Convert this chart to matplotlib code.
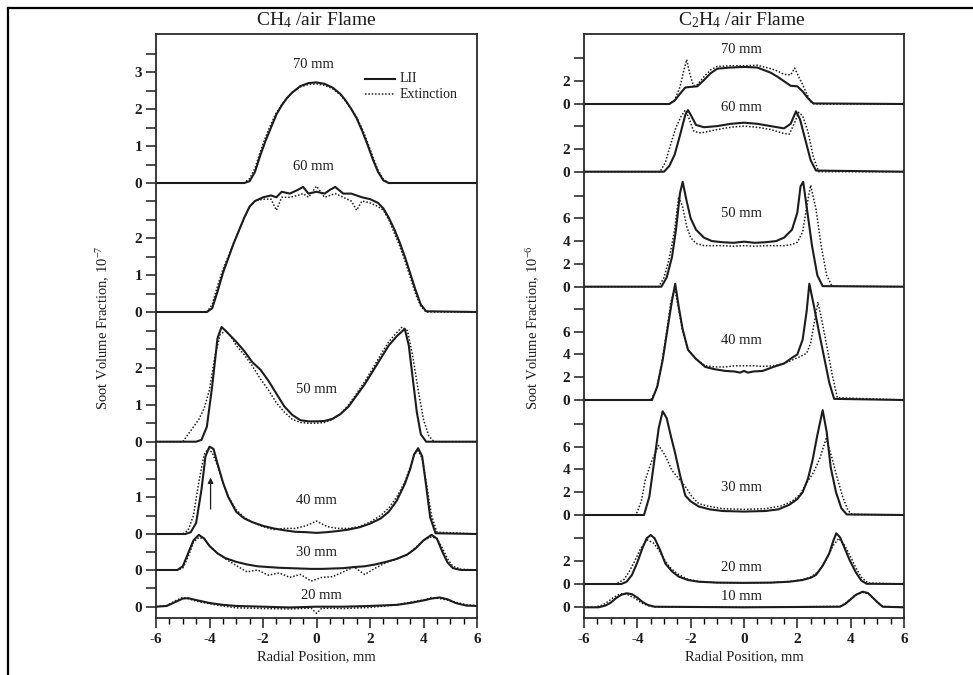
import matplotlib.pyplot as plt
from matplotlib.lines import Line2D

plt.rcParams['font.family'] = ['Liberation Serif', 'DejaVu Serif']
plt.rcParams['mathtext.fontset'] = 'custom'
plt.rcParams['mathtext.rm'] = 'Liberation Serif'
plt.rcParams['mathtext.default'] = 'regular'
plt.rcParams['axes.unicode_minus'] = False

# ---------------- CH4 / air flame, soot volume fraction in 1e-7 ----------------
ch4_heights = ['20 mm', '30 mm', '40 mm', '50 mm', '60 mm', '70 mm']

ch4_x70 = [-6, -2.7, -2.5, -2.3, -2.1, -1.9, -1.7, -1.5, -1.3, -1.1, -0.9, -0.6, -0.3, 0,
           0.3, 0.6, 0.9, 1.1, 1.3, 1.5, 1.7, 1.9, 2.1, 2.3, 2.5, 2.7, 6]
ch4_lii70 = [0, 0, 0.05, 0.3, 0.75, 1.15, 1.5, 1.85, 2.1, 2.3, 2.45, 2.62, 2.7, 2.72,
             2.68, 2.58, 2.4, 2.22, 2.0, 1.75, 1.42, 1.05, 0.65, 0.3, 0.07, 0, 0]
ch4_ext70 = [0, 0, 0.12, 0.4, 0.85, 1.25, 1.6, 1.9, 2.12, 2.3, 2.45, 2.6, 2.66, 2.68,
             2.64, 2.55, 2.38, 2.2, 2.0, 1.78, 1.48, 1.12, 0.72, 0.35, 0.1, 0, 0]

ch4_x60 = [-6, -4.1, -3.9, -3.7, -3.5, -3.3, -3.1, -2.9, -2.7, -2.5, -2.3, -2.0, -1.7,
           -1.5, -1.3, -1.0, -0.7, -0.5, -0.3, 0, 0.3, 0.5, 0.7, 1.0, 1.3, 1.5, 1.7, 2.0,
           2.3, 2.5, 2.7, 2.9, 3.1, 3.3, 3.5, 3.7, 3.9, 4.1, 6]
ch4_lii60 = [0, 0, 0.1, 0.55, 1.05, 1.45, 1.85, 2.2, 2.55, 2.85, 3.0, 3.1, 3.15, 3.1, 3.25,
             3.2, 3.3, 3.38, 3.2, 3.25, 3.2, 3.3, 3.38, 3.2, 3.2, 3.15, 3.1, 3.05, 2.95,
             2.8, 2.55, 2.25, 1.9, 1.5, 1.05, 0.6, 0.2, 0.02, 0]
ch4_ext60 = [0, 0, 0.2, 0.7, 1.15, 1.5, 1.85, 2.2, 2.55, 2.85, 3.0, 3.05, 3.05, 2.75, 3.1,
             3.1, 3.15, 3.2, 3.1, 3.4, 3.1, 3.15, 3.2, 3.1, 3.0, 2.75, 3.0, 2.95, 2.85,
             2.75, 2.5, 2.15, 1.8, 1.4, 0.95, 0.5, 0.15, 0, 0]

ch4_x50 = [-6, -4.5, -4.3, -4.1, -3.9, -3.7, -3.55, -3.4, -3.2, -3.0, -2.7, -2.4, -2.1,
           -1.8, -1.5, -1.2, -0.9, -0.6, -0.3, 0, 0.3, 0.6, 0.9, 1.2, 1.5, 1.8, 2.1, 2.4,
           2.7, 3.0, 3.15, 3.3, 3.45, 3.6, 3.75, 3.9, 4.1, 6]
ch4_lii50 = [0, 0, 0.05, 0.4, 1.5, 2.8, 3.1, 3.0, 2.85, 2.7, 2.45, 2.15, 1.95, 1.65, 1.3,
             0.95, 0.72, 0.58, 0.55, 0.55, 0.56, 0.62, 0.75, 0.95, 1.25, 1.55, 1.9, 2.25,
             2.6, 2.85, 2.95, 3.05, 2.6, 1.7, 0.8, 0.2, 0, 0]
ch4_xe50 = [-6, -5.0, -4.7, -4.4, -4.2, -4.0, -3.8, -3.6, -3.4, -3.2, -3.0, -2.7, -2.4,
            -2.1, -1.8, -1.5, -1.2, -0.9, -0.6, -0.3, 0, 0.3, 0.6, 0.9, 1.2, 1.5, 1.8,
            2.1, 2.4, 2.7, 3.0, 3.2, 3.4, 3.6, 3.8, 4.0, 4.2, 4.4, 6]
ch4_ext50 = [0, 0, 0.3, 0.6, 0.9, 1.4, 2.3, 2.9, 3.0, 2.85, 2.6, 2.35, 2.05, 1.7, 1.4,
             1.05, 0.8, 0.6, 0.52, 0.5, 0.5, 0.52, 0.6, 0.75, 1.0, 1.3, 1.62, 1.98, 2.35,
             2.7, 2.95, 3.1, 3.0, 2.3, 1.4, 0.6, 0.15, 0, 0]

ch4_x40 = [-6, -4.9, -4.7, -4.5, -4.3, -4.15, -4.0, -3.85, -3.7, -3.5, -3.3, -3.0, -2.7,
           -2.4, -2.0, -1.6, -1.2, -0.8, -0.4, 0, 0.4, 0.8, 1.2, 1.6, 2.0, 2.4, 2.7, 3.0,
           3.3, 3.5, 3.65, 3.8, 3.95, 4.1, 4.25, 4.45, 6]
ch4_lii40 = [0, 0, 0.05, 0.3, 1.2, 2.1, 2.36, 2.3, 1.9, 1.4, 1.0, 0.6, 0.42, 0.32, 0.22,
             0.15, 0.1, 0.06, 0.05, 0.03, 0.05, 0.08, 0.12, 0.18, 0.28, 0.42, 0.6, 0.9,
             1.35, 1.75, 2.15, 2.32, 2.1, 1.3, 0.45, 0.02, 0]
ch4_xe40 = [-6, -5.0, -4.8, -4.6, -4.4, -4.2, -4.05, -3.9, -3.7, -3.5, -3.3, -3.0, -2.7,
            -2.4, -2.0, -1.6, -1.2, -0.8, -0.4, 0, 0.4, 0.8, 1.2, 1.6, 2.0, 2.4, 2.7, 3.0,
            3.3, 3.5, 3.65, 3.8, 3.95, 4.1, 4.3, 4.5, 6]
ch4_ext40 = [0, 0, 0.1, 0.5, 1.4, 2.15, 2.3, 2.2, 1.85, 1.4, 1.02, 0.65, 0.45, 0.32, 0.2,
             0.12, 0.15, 0.15, 0.22, 0.35, 0.2, 0.15, 0.15, 0.2, 0.32, 0.5, 0.7, 1.0, 1.4,
             1.8, 2.15, 2.25, 2.05, 1.4, 0.5, 0.05, 0]

ch4_x30 = [-6, -5.2, -5.0, -4.8, -4.6, -4.4, -4.2, -4.0, -3.7, -3.4, -3.0, -2.6, -2.2,
           -1.8, -1.4, -1.0, -0.6, -0.2, 0.2, 0.6, 1.0, 1.4, 1.8, 2.2, 2.6, 3.0, 3.4, 3.7,
           4.0, 4.3, 4.5, 4.7, 4.9, 5.1, 5.4, 6]
ch4_lii30 = [0, 0, 0.1, 0.45, 0.8, 0.95, 0.85, 0.65, 0.45, 0.32, 0.22, 0.15, 0.1, 0.08,
             0.06, 0.05, 0.04, 0.03, 0.03, 0.04, 0.05, 0.08, 0.1, 0.15, 0.22, 0.3, 0.42,
             0.58, 0.8, 0.95, 0.85, 0.5, 0.2, 0.05, 0, 0]
ch4_ext30 = [0, 0, 0.05, 0.35, 0.75, 0.88, 0.85, 0.65, 0.45, 0.3, 0.12, -0.05, 0.0, -0.14,
             -0.08, -0.2, -0.12, -0.3, -0.2, -0.18, -0.05, 0.08, -0.12, 0.05, 0.2, 0.3,
             0.42, 0.6, 0.8, 0.9, 0.85, 0.6, 0.3, 0.1, 0.02, 0]

ch4_x20 = [-6, -5.6, -5.3, -5.0, -4.8, -4.5, -4.0, -3.5, -3.0, -2.0, -1.0, 0, 1.0, 2.0,
           3.0, 3.5, 4.0, 4.3, 4.6, 4.9, 5.2, 5.6, 6]
ch4_lii20 = [0, 0.02, 0.12, 0.22, 0.23, 0.18, 0.1, 0.05, 0.02, 0.0, -0.02, 0.0, 0.0, 0.02,
             0.05, 0.1, 0.17, 0.22, 0.25, 0.2, 0.1, 0.03, 0.02]
ch4_xe20 = [-6, -5.6, -5.3, -5.0, -4.8, -4.5, -4.0, -3.5, -3.0, -2.0, -1.0, -0.2, 0, 0.2,
            1.0, 2.0, 3.0, 3.5, 4.0, 4.3, 4.6, 4.9, 5.2, 5.6, 6]
ch4_ext20 = [0, 0.03, 0.15, 0.25, 0.22, 0.15, 0.08, 0.02, -0.03, -0.05, -0.06, -0.04,
             -0.18, -0.04, -0.05, -0.02, 0.05, 0.12, 0.18, 0.25, 0.22, 0.18, 0.12, 0.05, 0.03]

ch4_curves = [
    (ch4_x20, ch4_lii20, ch4_xe20, ch4_ext20),
    (ch4_x30, ch4_lii30, ch4_x30, ch4_ext30),
    (ch4_x40, ch4_lii40, ch4_xe40, ch4_ext40),
    (ch4_x50, ch4_lii50, ch4_xe50, ch4_ext50),
    (ch4_x60, ch4_lii60, ch4_x60, ch4_ext60),
    (ch4_x70, ch4_lii70, ch4_x70, ch4_ext70),
]
ch4_tick_top = [0.5, 0.5, 2.0, 3.0, 3.0, 3.5]
ch4_tick_labels = [[0], [0], [0, 1], [0, 1, 2], [0, 1, 2], [0, 1, 2, 3]]

# ---------------- C2H4 / air flame, soot volume fraction in 1e-6 ----------------
c2_heights = ['10 mm', '20 mm', '30 mm', '40 mm', '50 mm', '60 mm', '70 mm']

c2_x70 = [-6, -2.8, -2.6, -2.4, -2.2, -2.0, -1.75, -1.5, -1.25, -1.0, -0.5, 0, 0.5, 1.0,
          1.25, 1.5, 1.75, 2.0, 2.2, 2.4, 2.6, 6]
c2_lii70 = [0, 0, 0.3, 0.9, 1.45, 1.5, 1.55, 2.1, 2.7, 3.1, 3.2, 3.25, 3.2, 2.75, 2.4,
            2.0, 1.6, 1.55, 1.1, 0.5, 0.05, 0]
c2_xe70 = [-6, -2.8, -2.6, -2.4, -2.25, -2.15, -2.05, -1.9, -1.75, -1.5, -1.25, -1.0, -0.5,
           0, 0.5, 1.0, 1.25, 1.5, 1.75, 1.9, 2.05, 2.2, 2.35, 2.5, 2.65, 6]
c2_ext70 = [0, 0, 0.35, 1.5, 3.0, 3.9, 2.8, 1.6, 1.7, 2.4, 3.0, 3.3, 3.35, 3.35, 3.4, 3.1,
            2.9, 2.6, 2.55, 3.15, 2.4, 1.7, 0.9, 0.2, 0, 0]

c2_x60 = [-6, -3.0, -2.8, -2.6, -2.4, -2.2, -2.1, -2.0, -1.8, -1.5, -1.0, -0.5, 0, 0.5,
          1.0, 1.5, 1.75, 1.95, 2.1, 2.3, 2.5, 2.7, 6]
c2_lii60 = [0, 0, 0.5, 1.5, 3.2, 5.0, 5.4, 5.0, 4.1, 3.9, 4.0, 4.2, 4.3, 4.2, 4.0, 3.8,
            4.2, 5.3, 4.6, 2.8, 1.0, 0.1, 0]
c2_xe60 = [-6, -3.15, -2.95, -2.75, -2.55, -2.35, -2.2, -2.05, -1.9, -1.7, -1.5, -1.0, -0.5,
           0, 0.5, 1.0, 1.5, 1.7, 1.9, 2.05, 2.2, 2.4, 2.6, 2.8, 6]
c2_ext60 = [0, 0, 0.8, 2.4, 3.9, 4.9, 5.4, 4.6, 3.6, 3.4, 3.45, 3.7, 3.9, 4.0, 3.9, 3.7,
            3.35, 3.3, 4.3, 5.2, 4.9, 3.5, 1.3, 0, 0]

c2_x50 = [-6, -3.1, -2.9, -2.7, -2.55, -2.4, -2.3, -2.15, -2.0, -1.8, -1.5, -1.2, -0.8,
          -0.4, 0, 0.4, 0.8, 1.2, 1.5, 1.8, 2.0, 2.12, 2.22, 2.35, 2.55, 2.75, 2.95, 6]
c2_lii50 = [0, 0, 0.8, 2.6, 5.0, 8.2, 9.2, 7.5, 6.0, 5.0, 4.3, 4.0, 3.9, 3.85, 3.95, 3.85,
            3.9, 4.0, 4.3, 5.0, 6.5, 8.8, 9.2, 7.0, 3.6, 1.0, 0.05, 0]
c2_xe50 = [-6, -3.2, -3.0, -2.8, -2.6, -2.45, -2.3, -2.15, -2.0, -1.8, -1.5, -1.2, -0.8,
           -0.4, 0, 0.4, 0.8, 1.2, 1.5, 1.8, 2.0, 2.2, 2.35, 2.5, 2.7, 2.9, 3.1, 3.3, 6]
c2_ext50 = [0, 0, 0.8, 2.5, 5.0, 7.9, 7.0, 5.3, 4.3, 3.8, 3.6, 3.6, 3.6, 3.55, 3.6, 3.55,
            3.6, 3.6, 3.6, 3.7, 3.9, 4.8, 7.0, 8.9, 6.8, 3.5, 1.0, 0.05, 0]

c2_x40 = [-6, -3.45, -3.25, -3.05, -2.85, -2.7, -2.58, -2.45, -2.3, -2.1, -1.8, -1.45,
          -1.1, -0.7, -0.35, -0.15, 0, 0.15, 0.35, 0.7, 1.1, 1.5, 1.8, 2.0, 2.2, 2.35,
          2.45, 2.6, 2.8, 3.0, 3.2, 3.38, 6]
c2_lii40 = [0, 0, 1.2, 3.5, 6.5, 8.7, 10.2, 8.2, 6.2, 4.4, 3.6, 2.9, 2.7, 2.55, 2.5, 2.4,
            2.55, 2.4, 2.5, 2.55, 2.9, 3.2, 3.7, 4.0, 5.3, 7.8, 10.2, 8.5, 6.1, 3.8, 1.5,
            0.1, 0]
c2_xe40 = [-6, -3.5, -3.3, -3.1, -2.9, -2.75, -2.6, -2.45, -2.3, -2.1, -1.8, -1.45, -1.1,
           -0.7, -0.35, 0, 0.35, 0.7, 1.1, 1.5, 1.8, 2.1, 2.35, 2.5, 2.65, 2.77, 2.9, 3.1,
           3.3, 3.5, 6]
c2_ext40 = [0, 0, 0.8, 3.0, 6.0, 8.5, 9.8, 8.0, 6.0, 4.4, 3.6, 3.0, 2.9, 2.9, 3.0, 3.0,
            3.0, 2.95, 3.0, 3.2, 3.5, 3.8, 4.1, 5.0, 7.0, 8.6, 7.2, 4.8, 2.3, 0.2, 0]

c2_x30 = [-6, -3.75, -3.55, -3.35, -3.2, -3.05, -2.9, -2.75, -2.58, -2.4, -2.2, -2.0,
          -1.7, -1.3, -0.8, 0, 0.8, 1.3, 1.7, 2.0, 2.2, 2.4, 2.57, 2.75, 2.95, 3.1, 3.25,
          3.45, 3.65, 3.85, 6]
c2_lii30 = [0, 0, 1.6, 5.0, 7.6, 9.1, 8.5, 7.0, 5.4, 3.5, 1.7, 1.2, 0.75, 0.5, 0.35, 0.3,
            0.35, 0.5, 0.9, 1.4, 2.0, 3.2, 4.8, 7.0, 9.2, 7.3, 4.2, 2.0, 0.6, 0.05, 0]
c2_xe30 = [-6, -4.05, -3.85, -3.7, -3.45, -3.2, -2.95, -2.7, -2.45, -2.2, -1.95, -1.7,
           -1.4, -0.8, 0, 0.8, 1.4, 1.8, 2.1, 2.4, 2.6, 2.85, 3.08, 3.3, 3.5, 3.7, 3.9,
           4.05, 6]
c2_ext30 = [0, 0, 1.2, 3.1, 4.8, 6.1, 5.2, 3.9, 3.2, 2.5, 1.6, 1.0, 0.8, 0.55, 0.5, 0.55,
            0.8, 1.2, 1.8, 3.0, 3.7, 5.0, 6.7, 5.0, 3.2, 1.6, 0.4, 0.05, 0]

c2_x20 = [-6, -4.6, -4.4, -4.2, -4.0, -3.8, -3.65, -3.5, -3.35, -3.15, -2.95, -2.7, -2.45,
          -2.1, -1.7, -1.0, 0, 1.0, 1.7, 2.2, 2.5, 2.7, 2.95, 3.2, 3.35, 3.46, 3.6, 3.8,
          3.96, 4.2, 4.4, 4.6, 6]
c2_lii20 = [0, 0, 0.2, 0.8, 1.9, 3.2, 4.0, 4.3, 4.0, 3.0, 1.8, 1.1, 0.65, 0.35, 0.2, 0.12,
            0.1, 0.12, 0.2, 0.35, 0.55, 0.8, 1.6, 2.7, 3.8, 4.45, 4.1, 3.0, 2.1, 1.0, 0.3,
            0.02, 0]
c2_xe20 = [-6, -4.8, -4.5, -4.3, -4.1, -3.9, -3.65, -3.4, -3.2, -3.0, -2.8, -2.5, -2.1,
           -1.7, -1.0, 0, 1.0, 1.7, 2.2, 2.5, 2.8, 3.1, 3.35, 3.55, 3.75, 3.95, 4.2, 4.4,
           4.65, 6]
c2_ext20 = [0, 0, 0.4, 1.1, 2.0, 3.0, 3.9, 3.6, 3.0, 2.2, 1.5, 0.9, 0.4, 0.22, 0.12, 0.1,
            0.12, 0.22, 0.38, 0.6, 1.1, 2.2, 3.4, 4.0, 3.5, 2.6, 1.4, 0.6, 0.08, 0]

c2_x10 = [-6, -5.45, -5.2, -5.0, -4.8, -4.6, -4.4, -4.2, -4.0, -3.8, -3.6, -3.35, 0, 3.6,
          3.8, 4.0, 4.2, 4.45, 4.65, 4.85, 5.0, 5.2, 6]
c2_lii10 = [0, 0, 0.15, 0.4, 0.8, 1.1, 1.23, 1.15, 0.85, 0.45, 0.2, 0.05, 0.0, 0.05, 0.3,
            0.7, 1.1, 1.37, 1.25, 0.8, 0.45, 0.05, 0]
c2_xe10 = [-6, -5.6, -5.3, -5.1, -4.9, -4.7, -4.55, -4.35, -4.1, -3.85, -3.6, -3.35, 0,
           3.6, 3.8, 4.0, 4.2, 4.45, 4.65, 4.85, 5.0, 5.2, 6]
c2_ext10 = [0, 0, 0.2, 0.5, 0.85, 1.1, 1.2, 1.1, 0.8, 0.4, 0.15, 0.03, 0, 0.08, 0.35, 0.75,
            1.1, 1.3, 1.2, 0.8, 0.45, 0.08, 0]

c2_curves = [
    (c2_x10, c2_lii10, c2_xe10, c2_ext10),
    (c2_x20, c2_lii20, c2_xe20, c2_ext20),
    (c2_x30, c2_lii30, c2_xe30, c2_ext30),
    (c2_x40, c2_lii40, c2_xe40, c2_ext40),
    (c2_x50, c2_lii50, c2_xe50, c2_ext50),
    (c2_x60, c2_lii60, c2_xe60, c2_ext60),
    (c2_x70, c2_lii70, c2_xe70, c2_ext70),
]
c2_tick_top = [0, 4, 8, 8, 8, 4, 4]
c2_tick_labels = [[0], [0, 2], [0, 2, 4, 6], [0, 2, 4, 6], [0, 2, 4, 6], [0, 2], [0, 2]]

# ---------------- layout (pixels in the 973x675 picture) ----------------
W, H = 973, 675
left_panel = dict(l=156, r=477, px_per_unit=37.0,
                  base_px=[606.7, 570, 534, 441.7, 312, 183],
                  label_x=[0.2, 0, 0, 0, -0.1, -0.1],
                  label_dy=[0.3, 0.46, 0.9, 1.42, 3.92, 3.19])
right_panel = dict(l=584, r=904, px_per_unit=11.4,
                   base_px=[607.3, 584, 515, 400, 286.7, 171.7, 104],
                   label_x=[-0.1] * 7,
                   label_dy=[0.93, 1.43, 2.37, 5.26, 6.46, 5.6, 4.74])
TOP, BOTTOM = 34, 618
INK = '#1c1c1c'

fig = plt.figure(figsize=(W / 100, H / 100), dpi=100)

# frame of the scanned page
fig.add_artist(Line2D([8 / W, 1], [1 - 8 / H, 1 - 8 / H], color='black', lw=1.6))
fig.add_artist(Line2D([8 / W, 8 / W], [0, 1 - 8 / H], color='black', lw=1.6))


def make_panel(lay, curves, heights, tick_top, tick_labels, minor_step):
    ax = fig.add_axes([lay['l'] / W, 1 - BOTTOM / H, (lay['r'] - lay['l']) / W,
                       (BOTTOM - TOP) / H])
    ppu = lay['px_per_unit']
    ref = lay['base_px'][0]
    offs = [(ref - b) / ppu for b in lay['base_px']]
    ax.set_ylim(-(BOTTOM - ref) / ppu, (ref - TOP) / ppu)
    ax.set_xlim(-6, 6)

    for off, (xl, yl, xe, ye) in zip(offs, curves):
        ax.plot(xl, [off + v for v in yl], color=INK, lw=1.5, solid_joinstyle='round')
        ax.plot(xe, [off + v for v in ye], color=INK, lw=1.1, linestyle=(0, (1.0, 1.2)))

    pos, labs = [], []
    for off, top, lab in zip(offs, tick_top, tick_labels):
        v = 0.0
        while v <= top + 1e-9:
            pos.append(off + v)
            labs.append(str(int(v)) if (abs(v - round(v)) < 1e-9 and int(round(v)) in lab) else '')
            v += minor_step
    ax.set_yticks(pos, labs)
    ax.set_xticks([-6, -4, -2, 0, 2, 4, 6])
    ax.set_xticks([x / 2 for x in range(-12, 13)], minor=True)
    ax.tick_params(axis='y', direction='out', length=7, width=1.1, pad=3,
                   labelsize=11, colors=INK)
    ax.tick_params(axis='x', which='major', direction='out', length=7, width=1.1,
                   pad=4, labelsize=11, colors=INK)
    ax.tick_params(axis='x', which='minor', direction='out', length=4, width=1.0)
    for lbl in ax.get_yticklabels() + ax.get_xticklabels():
        lbl.set_fontweight('bold')
    for s in ax.spines.values():
        s.set_color('#2a2a2a')
        s.set_linewidth(1.3)

    for off, name, lx, dy in zip(offs, heights, lay['label_x'], lay['label_dy']):
        ax.text(lx, off + dy, name, ha='center', va='center', fontsize=10.5, color=INK)
    ax.set_xlabel('Radial Position, mm', fontsize=10.5, labelpad=3, color=INK)
    return ax, offs


ax1, offs1 = make_panel(left_panel, ch4_curves, ch4_heights, ch4_tick_top,
                        ch4_tick_labels, 0.5)
ax2, offs2 = make_panel(right_panel, c2_curves, c2_heights, c2_tick_top,
                        c2_tick_labels, 2)

fig.text(103 / W, 1 - 328 / H, 'Soot Volume Fraction, 10$^{-7}$', rotation=90,
         ha='center', va='center', fontsize=10.5, color=INK)
fig.text(533 / W, 1 - 328 / H, 'Soot Volume Fraction, 10$^{-6}$', rotation=90,
         ha='center', va='center', fontsize=10.5, color=INK)
fig.text(316 / W, 1 - 20 / H, 'CH$_4$ /air Flame', ha='center', va='center',
         fontsize=14, color=INK)
fig.text(742 / W, 1 - 20 / H, 'C$_2$H$_4$ /air Flame', ha='center', va='center',
         fontsize=14, color=INK)

# arrow marking the 40 mm LII peak
ax1.annotate('', xy=(-3.96, offs1[2] + 1.6), xytext=(-3.96, offs1[2] + 0.6),
             arrowprops=dict(arrowstyle='-|>', color=INK, lw=0.9, mutation_scale=8))

# legend
fig.add_artist(Line2D([365 / W, 395 / W], [1 - 79 / H] * 2, color=INK, lw=1.5))
fig.add_artist(Line2D([365 / W, 395 / W], [1 - 94 / H] * 2, color=INK, lw=1.1,
                      linestyle=(0, (1.0, 1.2))))
fig.text(400 / W, 1 - 79 / H, 'LII', ha='left', va='center', fontsize=10, color=INK)
fig.text(400 / W, 1 - 94 / H, 'Extinction', ha='left', va='center', fontsize=10, color=INK)

fig.savefig('out.png', dpi=100)
